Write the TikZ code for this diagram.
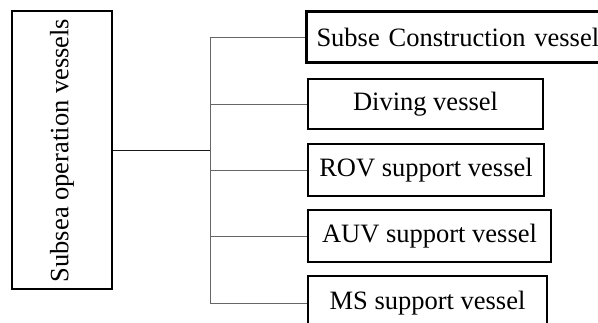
\documentclass[tikz,border=0pt]{standalone}
\usepackage{fontspec}
\setmainfont{Liberation Serif}
\begin{document}
\begin{tikzpicture}[x=1pt,y=-1pt,
  every node/.style={font=\fontsize{26.5}{30}\selectfont},
  rootbox/.style={draw, line width=2pt, inner sep=0pt},
  leafbox/.style={draw, line width=2pt, inner sep=0pt},
  mainbox/.style={draw, line width=3pt, inner xsep=10pt, inner ysep=0pt, align=left},
  link/.style={draw=black!60, line width=0.9pt},
  rootlink/.style={draw=black!90, line width=1.1pt}]
\useasboundingbox (0,0) rectangle (598,323);
\clip (0,0) rectangle (598,323);
\fill[white] (0,0) rectangle (598,323);

% root on the left, vertical label
\node[rootbox, minimum width=100pt, minimum height=278pt] (root) at (62,150.5)
  {\rotatebox{90}{Subsea operation vessels}};

% vessel types
\node[mainbox, text width=288.5pt, minimum height=50.5pt] (b1) at (460.75,37.25)
  {Subse Construction vessel};
\node[leafbox, minimum width=235pt, minimum height=50pt] (b2) at (425.5,104) {Diving vessel};
\node[leafbox, minimum width=236pt, minimum height=52pt] (b3) at (426,170) {ROV support vessel};
\node[leafbox, minimum width=243pt, minimum height=52pt] (b4) at (429.5,236) {AUV support vessel};
\node[leafbox, minimum width=239pt, minimum height=54pt] (b5) at (427.5,303) {MS support vessel};

% trunk and branches
\coordinate (trunk) at (210,0);
\draw[rootlink] (root.east) -- (root.east -| trunk);
\draw[link] (b1.west -| trunk) -- (b5.west -| trunk);
\foreach \b in {b1,b2,b3,b4,b5}
  \draw[link] (\b.west -| trunk) -- (\b.west);
\end{tikzpicture}
\end{document}
